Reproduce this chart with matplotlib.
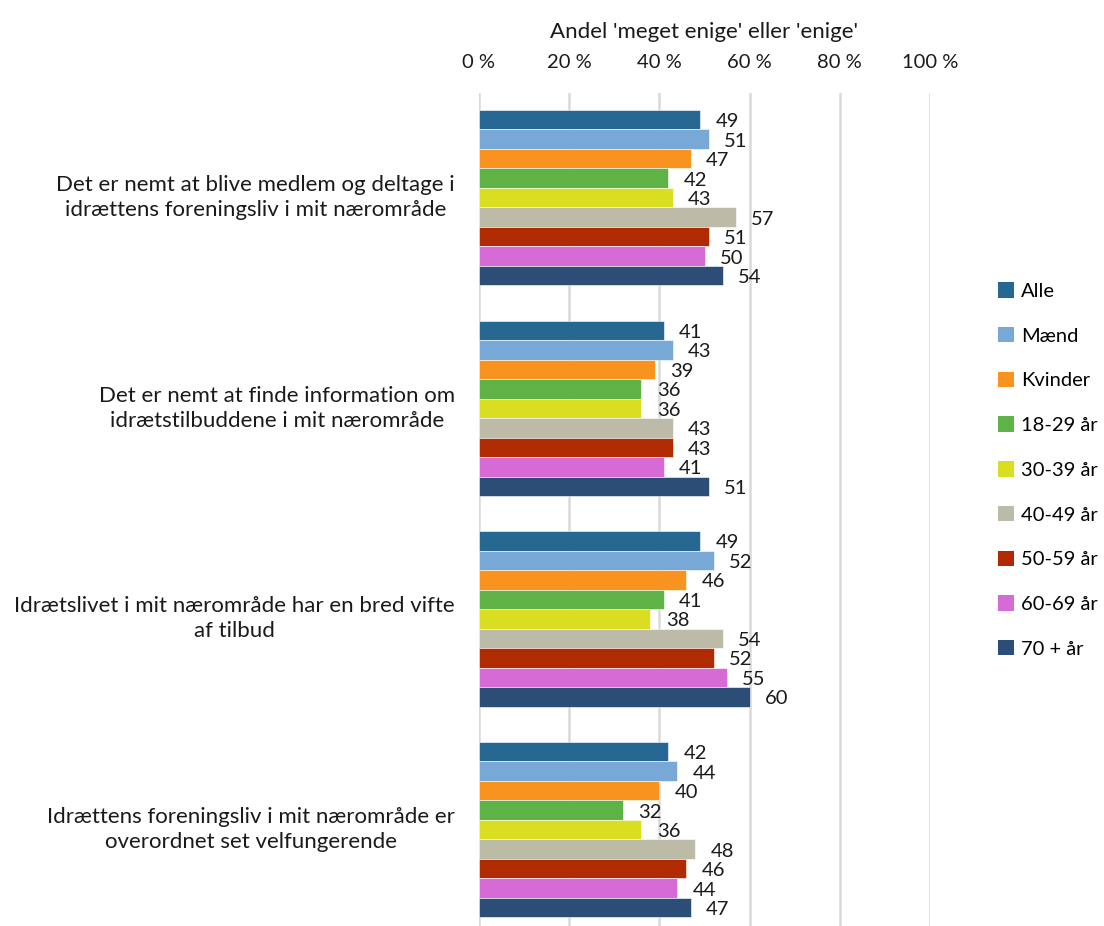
import numpy as np
import matplotlib
matplotlib.use("Agg")
import matplotlib.pyplot as plt
from matplotlib.patches import Patch

plt.rcParams['font.family'] = ['Lato', 'DejaVu Sans']

categories = [
    "Det er nemt at blive medlem og deltage i\nidrættens foreningsliv i mit nærområde",
    "Det er nemt at finde information om\nidrætstilbuddene i mit nærområde",
    "Idrætslivet i mit nærområde har en bred vifte\naf tilbud",
    "Idrættens foreningsliv i mit nærområde er\noverordnet set velfungerende",
]
series = ["Alle", "Mænd", "Kvinder", "18-29 år", "30-39 år",
          "40-49 år", "50-59 år", "60-69 år", "70 + år"]
colors = ["#276893", "#77a8d6", "#f7931e", "#5fb246", "#d9df20",
          "#bbbba8", "#b02a02", "#d66bd6", "#2c4d75"]

# rows = categories, columns = series
values = np.array([
    [49, 51, 47, 42, 43, 57, 51, 50, 54],
    [41, 43, 39, 36, 36, 43, 43, 41, 51],
    [49, 52, 46, 41, 38, 54, 52, 55, 60],
    [42, 44, 40, 32, 36, 48, 46, 44, 47],
])
xticks = [0, 20, 40, 60, 80, 100]
xlabel = "Andel 'meget enige' eller 'enige'"

W, H = 1104, 926
fig = plt.figure(figsize=(W / 100, H / 100), dpi=100)
ax = fig.add_axes([479 / W, 0, (930 - 479) / W, 1 - 93 / H])

pitch = 10.8
nser = len(series)
for j, (name, col) in enumerate(zip(series, colors)):
    ys = np.arange(len(categories)) * pitch + j
    ax.barh(ys, values[:, j], height=1.0, color=col,
            edgecolor="white", linewidth=0.4, label=name, zorder=3)
    for y, v in zip(ys, values[:, j]):
        ax.annotate(f"{v}", (v, y), xytext=(11, -1.5), textcoords="offset points",
                    ha="left", va="center", fontsize=14.5, color="#1a1a1a", zorder=4)

ax.set_ylim(-1.37 + 42.72, -1.37)
ax.set_xlim(0, 100)
ax.set_xticks(xticks)
ax.set_xticklabels([f"{t} %" for t in xticks], fontsize=14.5, color="#1a1a1a")
ax.xaxis.tick_top()
ax.xaxis.set_label_position("top")
ax.tick_params(axis="x", length=0, pad=15.5)
ax.set_xlabel(xlabel, fontsize=16, color="#1a1a1a", labelpad=12)
ax.set_yticks([])
ax.grid(axis="x", color="#d9d9d9", linewidth=1.8, zorder=0)
for s in ax.spines.values():
    s.set_visible(False)

centers = np.arange(len(categories)) * pitch + (nser - 1) / 2
for c, y in zip(categories, centers):
    ax.text(-24 / 451 * 100, y, c, ha="right", va="center", multialignment="center",
            fontsize=16, color="#1a1a1a", linespacing=1.3)

handles = [Patch(facecolor=c, edgecolor="none") for c in colors]
fig.legend(handles, series, loc="center left", bbox_to_anchor=(998 / W, 1 - 470 / H),
           frameon=False, fontsize=14.5, handlelength=0.8, handleheight=0.8,
           handletextpad=0.35, labelspacing=1.34, borderpad=0, borderaxespad=0)

fig.savefig("out.png", dpi=100)
